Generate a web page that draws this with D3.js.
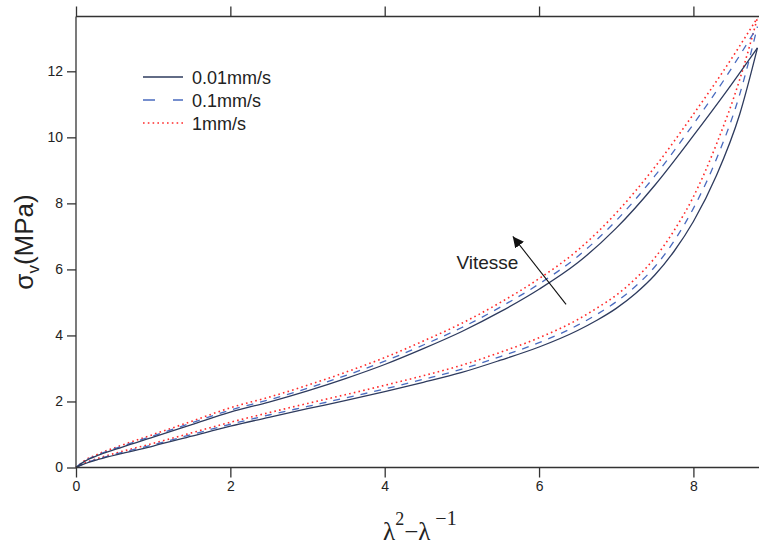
<!DOCTYPE html>
<html><head><meta charset="utf-8">
<script src="https://cdn.jsdelivr.net/npm/d3@7"></script>
<style>
html,body{margin:0;padding:0;background:#fff;}
svg{display:block;font-family:"Liberation Sans",Arial,sans-serif;}
</style></head>
<body>
<svg id="c" width="759" height="546"></svg>
<script>
// x values (lambda^2 - lambda^-1)
const xUpper = [0,0.1,0.3,0.6,1,1.5,2,2.5,3,3.5,4,4.5,5,5.5,6,6.5,7,7.5,8,8.4,8.83];
const xLower = [0,0.1,0.3,0.6,1,1.5,2,2.5,3,3.5,4,4.5,5,5.5,6,6.5,6.75,7,7.25,7.5,7.75,8,8.3,8.6,8.83];
// stress sigma_v (MPa), upper (loading) and lower (unloading) branches
const upper001 = [0,0.17,0.38,0.62,0.92,1.30,1.68,1.98,2.32,2.70,3.12,3.60,4.12,4.72,5.40,6.20,7.25,8.55,10.05,11.30,12.71];
const lower001 = [0,0.10,0.25,0.43,0.65,0.95,1.25,1.52,1.78,2.03,2.30,2.58,2.88,3.25,3.65,4.15,4.46,4.82,5.27,5.83,6.55,7.45,8.85,10.70,12.71];
const upper01  = [0,0.18,0.40,0.65,0.96,1.35,1.74,2.05,2.40,2.79,3.22,3.71,4.24,4.86,5.56,6.39,7.48,8.83,10.40,11.75,13.35];
const lower01  = [0,0.11,0.27,0.46,0.69,1.00,1.31,1.59,1.85,2.11,2.38,2.67,2.98,3.36,3.78,4.31,4.64,5.02,5.49,6.08,6.86,7.85,9.35,11.30,13.35];
const upper1   = [0,0.19,0.42,0.68,1.00,1.40,1.81,2.13,2.49,2.89,3.33,3.83,4.37,5.00,5.72,6.58,7.71,9.10,10.70,12.05,13.62];
const lower1   = [0,0.12,0.29,0.49,0.73,1.05,1.37,1.66,1.94,2.21,2.49,2.78,3.10,3.49,3.93,4.48,4.83,5.22,5.72,6.35,7.18,8.20,9.80,11.75,13.62];
const seriesNames = ["0.01mm/s","0.1mm/s","1mm/s"];
const xTicks = [0,2,4,6,8];
const yTicks = [0,2,4,6,8,10,12];

const svg = d3.select("#c");
const x = d3.scaleLinear().domain([0, 8.85]).range([76, 759]);
const y = d3.scaleLinear().domain([0, 13.66]).range([467.5, 16.5]);
const axisColor = "#333";

const styles = [
  {color:"#2e3b5e", dash:null, w:1.3},
  {color:"#4a6bbf", dash:"7,7", w:1.3},
  {color:"#ff2a2a", dash:"1.6,3.2", w:1.6}
];
const data = [
  [upper001, lower001],
  [upper01, lower01],
  [upper1, lower1]
];
const line = d3.line().x(d=>x(d[0])).y(d=>y(d[1])).curve(d3.curveMonotoneX);

// draw red first, then dashed, then solid (solid on top)
[2,1,0].forEach(i=>{
  const [u,l] = data[i];
  const st = styles[i];
  [[xUpper,u],[xLower,l]].forEach(([xs,ys])=>{
    svg.append("path")
      .attr("d", line(xs.map((v,k)=>[v,ys[k]])))
      .attr("fill","none").attr("stroke",st.color)
      .attr("stroke-width",st.w)
      .attr("stroke-dasharray",st.dash);
  });
});

// axes
const gL = svg.append("g").attr("transform","translate(76,0)")
  .call(d3.axisLeft(y).tickValues(yTicks).tickSize(9).tickSizeOuter(0).tickPadding(4));
const gB = svg.append("g").attr("transform","translate(0,467.5)")
  .call(d3.axisBottom(x).tickValues(xTicks).tickSize(10).tickSizeOuter(0).tickPadding(4));
const gT = svg.append("g").attr("transform","translate(0,16.5)")
  .call(d3.axisTop(x).tickValues(xTicks).tickSize(10).tickSizeOuter(0).tickFormat(""));
[gL,gB,gT].forEach(g=>{
  g.selectAll("path,line").attr("stroke",axisColor).attr("stroke-width",1.3);
  g.selectAll("text").attr("fill","#222").style("font-size","14px").style("font-family","'Liberation Sans',Arial,sans-serif");
});
gB.select(".domain").attr("d","M76,0H759");
gT.select(".domain").attr("d","M76,0H759");
gL.select(".domain").attr("d","M0,16.5V467.5");

// y label
svg.append("text")
  .attr("transform","translate(33,242) rotate(-90)")
  .attr("text-anchor","middle")
  .style("font-size","26px").attr("fill","#222")
  .html('σ<tspan dy="6" font-size="17">v</tspan><tspan dy="-6">(MPa)</tspan>');

// x label
svg.append("text")
  .attr("x",383).attr("y",540)
  .style("font-family","'Liberation Serif','Times New Roman',serif")
  .style("font-size","25px").attr("fill","#222")
  .html('λ<tspan dy="-15" font-size="18">2</tspan><tspan dy="15">−λ</tspan><tspan dy="-15" dx="5" font-size="20">−1</tspan>');

// legend
const legY = [77,100,123];
seriesNames.forEach((n,i)=>{
  const st = styles[i];
  svg.append("line").attr("x1",143).attr("x2",183).attr("y1",legY[i]).attr("y2",legY[i])
    .attr("stroke",st.color).attr("stroke-width",st.w)
    .attr("stroke-dasharray", i===1 ? "12,18" : st.dash);
  svg.append("text").attr("x",192).attr("y",legY[i]+6.5)
    .style("font-size","18px").attr("fill","#222").text(n);
});

// annotation
svg.append("defs").append("marker").attr("id","ah")
  .attr("viewBox","0 0 10 10").attr("refX",10).attr("refY",5)
  .attr("markerWidth",11).attr("markerHeight",11).attr("markerUnits","userSpaceOnUse")
  .attr("orient","auto")
  .append("path").attr("d","M0,0L10,5L0,10z").attr("fill","#111");
svg.append("line").attr("x1",x(6.35)).attr("y1",y(4.94)).attr("x2",x(5.66)).attr("y2",y(7.0))
  .attr("stroke","#111").attr("stroke-width",1.1).attr("marker-end","url(#ah)");
svg.append("text").attr("x",x(4.93)).attr("y",y(6.0))
  .style("font-size","19px").attr("fill","#222").text("Vitesse");
</script>
</body></html>
